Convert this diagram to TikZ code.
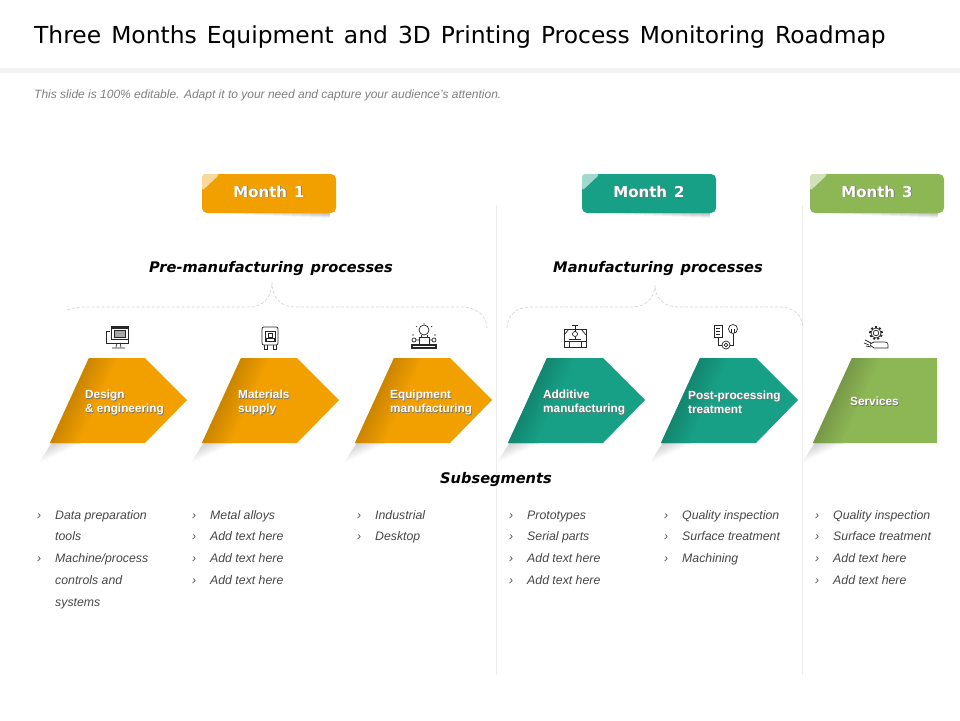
\documentclass[tikz,border=0pt]{standalone}
\usepackage{fontspec}
\setmainfont{Liberation Sans}
\newfontfamily\headfont[WordSpace=1.35]{DejaVu Sans}
\definecolor{orng}{HTML}{F29F00}
\definecolor{teal2}{HTML}{17A085}
\definecolor{grn}{HTML}{8DB655}
\newcommand{\shtxt}[1]{\rlap{\kern.7pt\raisebox{-.7pt}{\textcolor{black!55}{#1}}}#1}
\newcommand{\itm}{\strut\llap{\textcolor{black!70}{›}\kern14pt}}
\tikzset{
    month/.style={rounded corners=5pt,minimum width=134pt,minimum height=39pt,inner sep=0pt,
        text=white,font=\headfont\fontsize{15}{18}\selectfont\bfseries},
    head/.style={inner sep=0pt,font=\headfont\fontsize{14.6}{18}\selectfont\bfseries\itshape},
    seglabel/.style={inner sep=0pt,anchor=west,align=left,text=white,
        font=\fontsize{11.8}{14}\selectfont\bfseries},
    items/.style={inner sep=0pt,anchor=north west,align=left,text=black!72,
        font=\fontsize{12.3}{21.7}\selectfont\itshape},
    brace/.style={black!16,dash pattern=on 3pt off 2pt,line width=.7pt},
    divider/.style={black!7,line width=.8pt},
    icon/.style={black!85,line width=.7pt},
    fadeshadow/.style={black,opacity=.02}
}
\begin{document}
\begin{tikzpicture}[x=1pt,y=-1pt]
    \useasboundingbox (0,0) rectangle (960,720);
    \fill[white] (0,0) rectangle (960,720);

    \node[anchor=base west,inner sep=0pt,font=\headfont\fontsize{23.4}{30}\selectfont] (title) at (34,43.5)
        {Three Months Equipment and 3D Printing Process Monitoring Roadmap};
    \fill[black!5] (0,68) rectangle (960,73);
    \node[anchor=base west,inner sep=0pt,text=black!50,font=\fontsize{12}{14}\selectfont\itshape] (sub) at (34,98)
        {This slide is 100\% editable. Adapt it to your need and capture your audience’s attention.};

    \draw[divider] (496,205) -- (496,675);
    \draw[divider] (802,205) -- (802,675);

    % month tabs
    \foreach \x/\c in {202/orng,582/teal2,810/grn} {
        \foreach \i in {1,...,12}
            \fill[black,opacity=.025] (\x+128-9.5*\i,213) rectangle (\x+128,213+5.4-.4*\i);
        \fill[\c,rounded corners=5pt] (\x,174) rectangle (\x+134,213);
        \fill[\c!40!white,rounded corners=3pt] (\x,191) -- (\x,174) -- (\x+18,174) -- cycle;
    }
    \node[month] (m1) at (269,192) {\shtxt{Month 1}};
    \node[month] (m2) at (649,192) {\shtxt{Month 2}};
    \node[month] (m3) at (877,192) {\shtxt{Month 3}};

    \node[head] (pre) at (271,269) {Pre-manufacturing processes};
    \node[head] (man) at (658,269) {Manufacturing processes};

    \draw[brace] (67,310) .. controls (72,308) and (78,307) .. (86,307) -- (250,307)
        .. controls (263,307) and (272,297) .. (272,282)
        .. controls (272,297) and (280,307) .. (295,307) -- (462,307)
        .. controls (476,307) and (487,316) .. (487,328);
    \draw[brace] (507,328) .. controls (507,316) and (516,307) .. (530,307) -- (632,307)
        .. controls (645,307) and (655,298) .. (655,285)
        .. controls (655,298) and (664,307) .. (678,307) -- (780,307)
        .. controls (794,307) and (803,316) .. (803,328);

    % chevrons
    \foreach \x/\c in {50/orng,202/orng,355/orng,508/teal2,661/teal2} {
        \foreach \i in {1,...,10}
            \fill[fadeshadow] (\x+2,443) -- (\x+3.2*\i,443) -- (\x-1.1*\i,443+2*\i) -- cycle;
        \begin{scope}
            \clip (\x,443) -- (\x+39,358) -- (\x+95,358) -- (\x+137,400) -- (\x+95,443) -- cycle;
            \fill[\c] (\x-5,350) rectangle (\x+140,450);
            \foreach \i [evaluate=\i as \m using 84+\i*16/13] in {0,...,13}
                \fill[\c!\m!black,shift={(\x,443)},rotate=-24.6] (\i*2,20) rectangle (\i*2+2.3,-110);
        \end{scope}
    }
    \foreach \i in {1,...,10}
        \fill[fadeshadow] (815,443) -- (813+3.2*\i,443) -- (813-1.1*\i,443+2*\i) -- cycle;
    \begin{scope}
        \clip (813,443) -- (852,358) -- (937,358) -- (937,443) -- cycle;
        \fill[grn] (805,350) rectangle (940,450);
        \foreach \i [evaluate=\i as \m using 84+\i*16/13] in {0,...,13}
            \fill[grn!\m!black,shift={(813,443)},rotate=-24.6] (\i*2,20) rectangle (\i*2+2.3,-110);
    \end{scope}

    \node[seglabel] (s1) at (85,403) {\shtxt{Design}\\\shtxt{\& engineering}};
    \node[seglabel] (s2) at (238,403) {\shtxt{Materials}\\\shtxt{supply}};
    \node[seglabel] (s3) at (390,403) {\shtxt{Equipment}\\\shtxt{manufacturing}};
    \node[seglabel] (s4) at (543,403) {\shtxt{Additive}\\\shtxt{manufacturing}};
    \node[seglabel] (s5) at (688,403) {\shtxt{Post-processing}\\\shtxt{treatment}};
    \node[seglabel] (s6) at (850,402) {\shtxt{Services}};

    % icons
    \begin{scope}[icon]
        \draw (110,331) -- (106,331) -- (106,343) -- (128,343) -- (128,339);
        \draw[fill=white] (111,326) rectangle (128,339);
        \fill (111,326) rectangle (128,328.5);
        \draw[fill=black!35] (114,330) rectangle (125,337);
        \draw (117,343) -- (116,347) (120,343) -- (121,347) (112,348) -- (125,348);

        \draw[rounded corners=2pt] (262,327) rectangle (278,345);
        \draw (265,331) rectangle (275,341);
        \draw (268,333) rectangle (272,337) (266,341) -- (266,338) -- (274,338) -- (274,341);
        \draw (264,345) -- (264,349) -- (267,349) -- (267,345) (273,345) -- (273,349) -- (276,349) -- (276,345);

        \draw (424,330) circle (5pt);
        \draw (421,335) -- (421,337) (427,335) -- (427,337);
        \draw (419,337) rectangle (429,344);
        \draw (412,335) -- (414,335) (434,335) -- (436,335) (416,326) -- (417,327) (432,326) -- (431,327) (424,323) -- (424,324);
        \draw (414,340) circle (2pt) (434,340) circle (2pt) (416,340) -- (419,340) (429,340) -- (432,340);
        \fill (411,343.5) rectangle (437,349);
        \draw[white,line width=.6pt] (413,346.3) -- (435,346.3);

        \draw (564,329) rectangle (586,347);
        \draw (564,335) -- (569,329) (586,335) -- (581,329);
        \draw (564,341) -- (586,341);
        \draw (575,325) -- (575,332) (572,325) -- (578,325);
        \draw (575,334) circle (2.5pt);
        \draw (569,339) -- (581,339) (575,336.5) -- (575,339);
        \draw (569,341) -- (569,347) (581,341) -- (581,347);

        \draw (714,325) rectangle (722,337);
        \draw (716,328) -- (720,328) (716,331) -- (720,331) (716,334) -- (720,334);
        \draw (733,329) circle (4.5pt);
        \draw (731.5,329) -- (731.5,333) (734.5,329) -- (734.5,333);
        \draw (726,345) circle (4pt) (726,345) circle (1.8pt);
        \draw (718,337) -- (718,345) -- (722,345);
        \draw (733,334) -- (733,345) -- (730,345);

        \draw (876,333) circle (2.8pt);
        \draw (876,333) circle (5pt);
        \draw[line width=1.8pt,dash pattern=on 2pt off 2.2pt] (876,333) circle (6pt);
        \draw (870,344) -- (874,342) -- (884,342) .. controls (888,342) and (888,344) .. (888,345) -- (888,348) -- (874,348) -- (870,345);
        \draw (865,340) -- (871,343) (864,343) -- (869,345) (866,346) -- (871,347);
    \end{scope}

    \node[head] (subseg) at (496,480) {Subsegments};

    \node[items] (l1) at (55,503.8) {\itm Data preparation\\\strut tools\\\itm Machine/process\\\strut controls and\\\strut systems};
    \node[items] (l2) at (210,503.8) {\itm Metal alloys\\\itm Add text here\\\itm Add text here\\\itm Add text here};
    \node[items] (l3) at (375,503.8) {\itm Industrial\\\itm Desktop};
    \node[items] (l4) at (527,503.8) {\itm Prototypes\\\itm Serial parts\\\itm Add text here\\\itm Add text here};
    \node[items] (l5) at (682,503.8) {\itm Quality inspection\\\itm Surface treatment\\\itm Machining};
    \node[items] (l6) at (833,503.8) {\itm Quality inspection\\\itm Surface treatment\\\itm Add text here\\\itm Add text here};
\end{tikzpicture}
\end{document}
